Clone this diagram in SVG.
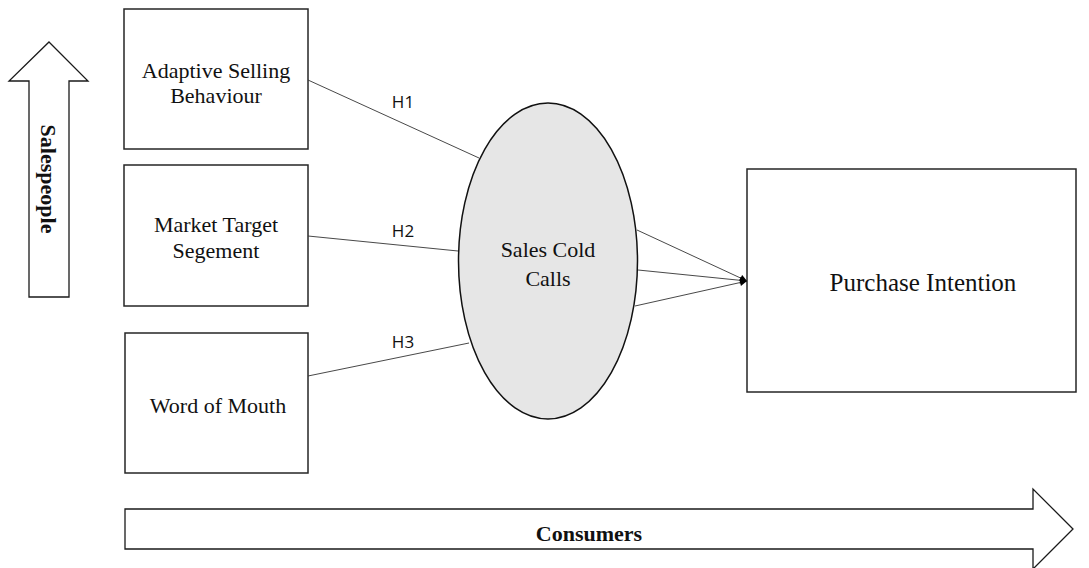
<svg xmlns="http://www.w3.org/2000/svg" width="1089" height="568" viewBox="0 0 1089 568">
  <style>
    .box { fill: #ffffff; stroke: #262626; stroke-width: 1.5; }
    .big-arrow { fill: #ffffff; stroke: #1a1a1a; stroke-width: 1.3; stroke-linejoin: miter; }
    .label { font-family: "Liberation Serif", "Times New Roman", serif; font-size: 22px; fill: #111111; text-anchor: middle; }
    .label-lg { font-family: "Liberation Serif", "Times New Roman", serif; font-size: 25px; fill: #111111; text-anchor: middle; }
    .axis-label { font-family: "Liberation Serif", "Times New Roman", serif; font-size: 22px; font-weight: bold; fill: #111111; text-anchor: middle; }
    .hyp { font-family: "Open Sans", "Liberation Sans", sans-serif; font-size: 17px; fill: #111111; text-anchor: middle; }
    .link { stroke: #333333; stroke-width: 0.9; fill: none; }
  </style>
  <defs>
    <marker id="head" viewBox="0 0 10 10" refX="10" refY="5" markerWidth="8" markerHeight="7" markerUnits="userSpaceOnUse" orient="auto">
      <path d="M0,0 L10,5 L0,10 Z" fill="#000000"/>
    </marker>
  </defs>

  <rect width="1089" height="568" fill="#ffffff"/>

  <!-- vertical block arrow: Salespeople -->
  <g id="salespeople-arrow">
    <path class="big-arrow" d="M49,42 L88,81 L69,81 L69,297 L29,297 L29,81 L9,81 Z"/>
    <text class="axis-label" transform="translate(41,179) rotate(90)">Salespeople</text>
  </g>

  <!-- horizontal block arrow: Consumers -->
  <g id="consumers-arrow">
    <path class="big-arrow" d="M125,509 L1033,509 L1033,489 L1073,529 L1033,569 L1033,549 L125,549 Z"/>
    <text class="axis-label" x="589" y="541">Consumers</text>
  </g>

  <g id="adaptive-selling">
    <rect class="box" x="124" y="9" width="184" height="140"/>
    <text class="label" x="216" y="78">Adaptive Selling</text>
    <text class="label" x="216" y="103">Behaviour</text>
  </g>

  <g id="market-target">
    <rect class="box" x="124" y="165" width="184" height="141"/>
    <text class="label" x="216" y="232">Market Target</text>
    <text class="label" x="216" y="258">Segement</text>
  </g>

  <g id="word-of-mouth">
    <rect class="box" x="125" y="333" width="183" height="140"/>
    <text class="label" x="218" y="413">Word of Mouth</text>
  </g>

  <g id="sales-cold-calls">
    <ellipse cx="548" cy="261" rx="89.5" ry="158" fill="#e6e6e6" stroke="#111111" stroke-width="1.5"/>
    <text class="label" x="548" y="257">Sales Cold</text>
    <text class="label" x="548" y="286">Calls</text>
  </g>

  <g id="purchase-intention">
    <rect class="box" x="747" y="169" width="329" height="223"/>
    <text class="label-lg" x="923" y="291">Purchase Intention</text>
  </g>

  <g id="connectors">
    <line class="link" x1="308" y1="80" x2="479" y2="158"/>
    <line class="link" x1="308" y1="236" x2="458" y2="251"/>
    <line class="link" x1="308" y1="376" x2="469" y2="343"/>
    <line class="link" x1="637" y1="230" x2="747" y2="281" marker-end="url(#head)"/>
    <line class="link" x1="638" y1="270" x2="747" y2="281" marker-end="url(#head)"/>
    <line class="link" x1="635" y1="306" x2="747" y2="281" marker-end="url(#head)"/>
    <text class="hyp" x="403" y="108">H1</text>
    <text class="hyp" x="403" y="237">H2</text>
    <text class="hyp" x="403" y="348">H3</text>
  </g>
</svg>
